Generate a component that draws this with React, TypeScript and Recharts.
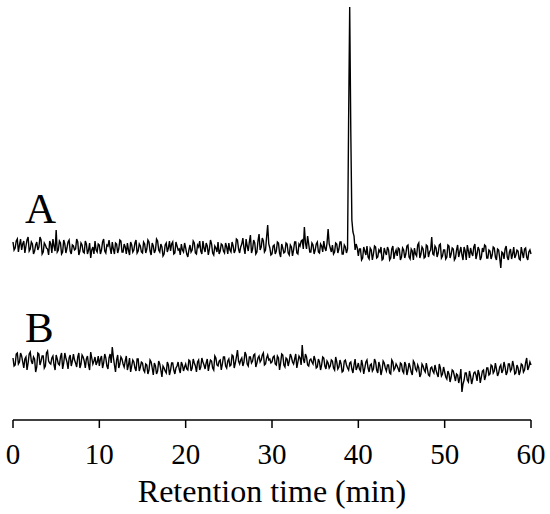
import React from 'react';
import { LineChart, Line, XAxis, YAxis, ReferenceDot } from 'recharts';

const STEP = 0.25; // minutes between grid samples
const FONT = '"Liberation Serif", "Times New Roman", serif';

// Trace A, samples at 0, 0.25, 0.5 ... 60 min (arbitrary intensity units)
const traceA = [
  178, 172, 181, 175, 170, 179, 174, 183, 171, 176, 169, 178, 173, 180, 168, 175, 171, 179, 167, 174,
  190, 170, 177, 168, 176, 172, 180, 166, 174, 171, 178, 169, 175, 167, 176, 170, 162, 173, 179, 168,
  175, 170, 181, 167, 174, 172, 178, 166, 176, 171, 179, 168, 173, 177, 165, 175, 170, 180, 169, 174,
  167, 176, 171, 178, 165, 174, 170, 179, 168, 173, 166, 177, 172, 169, 178, 167, 174, 171, 176, 168,
  172, 163, 175, 170, 177, 166, 173, 169, 179, 168, 174, 171, 176, 165, 172, 178, 169, 175, 167, 173,
  177, 168, 174, 170, 180, 167, 176, 172, 181, 169, 185, 171, 177, 168, 186, 173, 179, 170, 195, 172,
  166, 175, 169, 177, 163, 172, 168, 176, 165, 173, 170, 178, 166, 174, 180, 193, 171, 176, 168, 175,
  170, 178, 167, 174, 179, 169, 191, 172, 175, 168, 176, 171, 178, 166, 173, 171, 413, 200, 184, 176,
  164, 171, 162, 169, 174, 161, 170, 166, 173, 163, 168, 160, 172, 165, 170, 162, 174, 167, 164, 171,
  163, 170, 166, 175, 161, 169, 172, 164, 177, 166, 171, 163, 174, 168, 183, 165, 172, 167, 176, 164,
  170, 163, 174, 166, 171, 162, 175, 168, 165, 173, 160, 169, 172, 164, 176, 166, 170, 163, 168, 174,
  162, 169, 165, 172, 160, 170, 152, 167, 171, 163, 168, 161, 173, 165, 169, 160, 167, 171, 163, 168,
  166,
];

// Trace A, samples at 0.125, 0.375 ... 59.875 min
const traceAMid = [
  170, 179, 168, 181, 176, 167, 180, 169, 178, 166, 175, 170, 183, 166, 177, 172, 165, 176, 181, 169,
  168, 179, 166, 180, 167, 178, 169, 175, 170, 181, 165, 177, 168, 179, 166, 177, 170, 166, 170, 176,
  166, 178, 169, 175, 180, 166, 171, 177, 167, 180, 168, 176, 166, 170, 178, 168, 177, 167, 176, 168,
  178, 167, 180, 169, 177, 167, 181, 170, 176, 164, 175, 168, 179, 176, 166, 178, 170, 165, 170, 177,
  166, 170, 168, 179, 167, 175, 179, 166, 172, 177, 165, 180, 167, 174, 168, 166, 176, 169, 177, 166,
  170, 178, 167, 181, 171, 173, 182, 166, 174, 178, 167, 180, 166, 179, 170, 182, 168, 183, 176, 165,
  174, 166, 178, 167, 176, 167, 177, 167, 175, 164, 178, 167, 176, 179, 171, 177, 184, 168, 177, 166,
  176, 168, 176, 168, 172, 177, 176, 168, 166, 177, 167, 178, 166, 175, 167, 300, 290, 188, 170, 172,
  171, 160, 173, 165, 163, 172, 160, 174, 162, 170, 173, 161, 168, 173, 160, 171, 161, 170, 172, 160,
  172, 162, 174, 163, 171, 160, 166, 175, 162, 173, 162, 175, 163, 170, 166, 174, 163, 175, 162, 170,
  161, 175, 162, 172, 160, 170, 163, 173, 160, 169, 175, 162, 167, 173, 161, 173, 160, 172, 175, 162,
  170, 161, 173, 163, 171, 162, 168, 161, 174, 160, 171, 166, 162, 170, 161, 173, 162, 172, 160, 170,
];

// Trace B, samples at 0, 0.25 ... 60 min
const traceB = [
  62, 55, 67, 58, 64, 52, 63, 57, 68, 56, 61, 53, 66, 59, 64, 54, 69, 57, 62, 55,
  65, 56, 63, 51, 67, 58, 62, 54, 66, 57, 63, 52, 65, 59, 61, 55, 68, 56, 63, 58,
  54, 64, 57, 62, 51, 66, 73, 55, 60, 52, 63, 56, 59, 50, 62, 54, 58, 49, 61, 53,
  57, 48, 55, 50, 58, 45, 54, 49, 56, 43, 52, 47, 55, 50, 57, 46, 54, 51, 58, 49,
  56, 50, 59, 52, 57, 48, 60, 53, 58, 51, 61, 55, 59, 50, 62, 54, 60, 56, 63, 52,
  61, 55, 64, 57, 70, 56, 62, 58, 65, 54, 63, 59, 66, 57, 64, 60, 67, 56, 65, 61,
  58, 64, 55, 62, 57, 65, 53, 61, 59, 63, 56, 66, 58, 62, 75, 57, 63, 54, 61, 56,
  60, 53, 58, 55, 62, 51, 57, 54, 59, 50, 58, 53, 56, 49, 60, 52, 57, 51, 55, 50,
  57, 49, 55, 52, 60, 48, 56, 51, 58, 47, 54, 50, 57, 49, 55, 46, 58, 52, 54, 48,
  56, 47, 55, 50, 53, 45, 57, 49, 52, 46, 54, 48, 51, 44, 53, 47, 50, 43, 52, 46,
  48, 41, 46, 43, 49, 39, 45, 42, 28, 40, 47, 38, 44, 41, 48, 39, 46, 43, 50, 44,
  52, 46, 54, 49, 51, 47, 55, 50, 53, 48, 56, 51, 54, 47, 52, 49, 55, 50, 62, 53,
  55,
];

// Trace B, samples at 0.125, 0.375 ... 59.875 min
const traceBMid = [
  54, 66, 56, 67, 58, 61, 50, 66, 59, 63, 48, 67, 55, 64, 52, 67, 59, 56, 64, 50,
  61, 55, 67, 57, 62, 51, 65, 59, 60, 53, 67, 56, 63, 52, 64, 50, 62, 59, 55, 64,
  61, 52, 66, 54, 62, 57, 63, 48, 65, 56, 61, 53, 64, 55, 48, 60, 52, 61, 49, 58,
  50, 56, 46, 60, 52, 57, 46, 59, 50, 54, 49, 58, 45, 57, 50, 52, 58, 47, 55, 53,
  51, 60, 49, 61, 54, 58, 50, 62, 55, 57, 49, 60, 52, 64, 55, 59, 50, 63, 54, 59,
  54, 65, 52, 63, 59, 60, 54, 68, 56, 63, 57, 65, 53, 62, 58, 65, 55, 62, 60, 57,
  63, 56, 64, 50, 66, 55, 62, 54, 66, 58, 61, 52, 64, 55, 61, 66, 55, 60, 58, 64,
  52, 61, 50, 63, 54, 59, 52, 60, 52, 63, 51, 60, 48, 59, 55, 50, 58, 47, 61, 53,
  51, 60, 46, 58, 52, 55, 49, 61, 50, 58, 45, 59, 52, 55, 47, 60, 50, 56, 51, 57,
  49, 58, 45, 57, 48, 59, 51, 55, 43, 56, 50, 57, 45, 52, 49, 55, 46, 56, 44, 53,
  43, 49, 38, 50, 44, 46, 37, 51, 36, 47, 40, 49, 36, 47, 45, 50, 37, 49, 40, 52,
  45, 55, 47, 57, 44, 53, 47, 58, 45, 56, 49, 59, 46, 55, 45, 56, 48, 57, 50, 58,
];

const xTicks = [0, 10, 20, 30, 40, 50, 60];
const traceNames = ['A', 'B'];
const traceLabelTimes = [1.4, 1.4];
const traceLabelValues = [197, 78];

const buildSeries = (grid: number[], mid: number[]) =>
  [
    ...grid.map((v, i) => ({ t: i * STEP, v })),
    ...mid.map((v, i) => ({ t: i * STEP + STEP / 2, v })),
  ].sort((a, b) => a.t - b.t);

const dataA = buildSeries(traceA, traceAMid);
const dataB = buildSeries(traceB, traceBMid);

const makeLabel = (name: string) => (props: any) => {
  const vb = props.viewBox || {};
  return (
    <text x={vb.x} y={vb.y} fontSize={43} fontFamily={FONT} fill="#000">
      {name}
    </text>
  );
};

export default function App() {
  return (
    <div style={{ position: 'absolute', left: 0, top: 0, background: '#fff' }}>
      <LineChart width={550} height={514} margin={{ top: 5, right: 19, bottom: 0, left: 13 }}>
        <XAxis
          dataKey="t"
          type="number"
          domain={[0, 60]}
          ticks={xTicks}
          interval={0}
          height={94}
          tickSize={8}
          tickMargin={15}
          axisLine={{ stroke: '#000', strokeWidth: 1.5 }}
          tickLine={{ stroke: '#000', strokeWidth: 1.5 }}
          tick={{ fontSize: 29, fill: '#000', fontFamily: FONT }}
          label={{
            value: 'Retention time (min)',
            position: 'insideBottom',
            offset: 12,
            fontSize: 32,
            fill: '#000',
            fontFamily: FONT,
          }}
        />
        <YAxis hide type="number" domain={[0, 415]} allowDataOverflow />
        <Line
          data={dataA}
          dataKey="v"
          type="linear"
          stroke="#000"
          strokeWidth={1.4}
          dot={false}
          activeDot={false}
          isAnimationActive={false}
        />
        <Line
          data={dataB}
          dataKey="v"
          type="linear"
          stroke="#000"
          strokeWidth={1.4}
          dot={false}
          activeDot={false}
          isAnimationActive={false}
        />
        {traceNames.map((name, i) => (
          <ReferenceDot
            key={name}
            x={traceLabelTimes[i]}
            y={traceLabelValues[i]}
            r={0}
            fill="none"
            stroke="none"
            label={makeLabel(name)}
          />
        ))}
      </LineChart>
    </div>
  );
}
